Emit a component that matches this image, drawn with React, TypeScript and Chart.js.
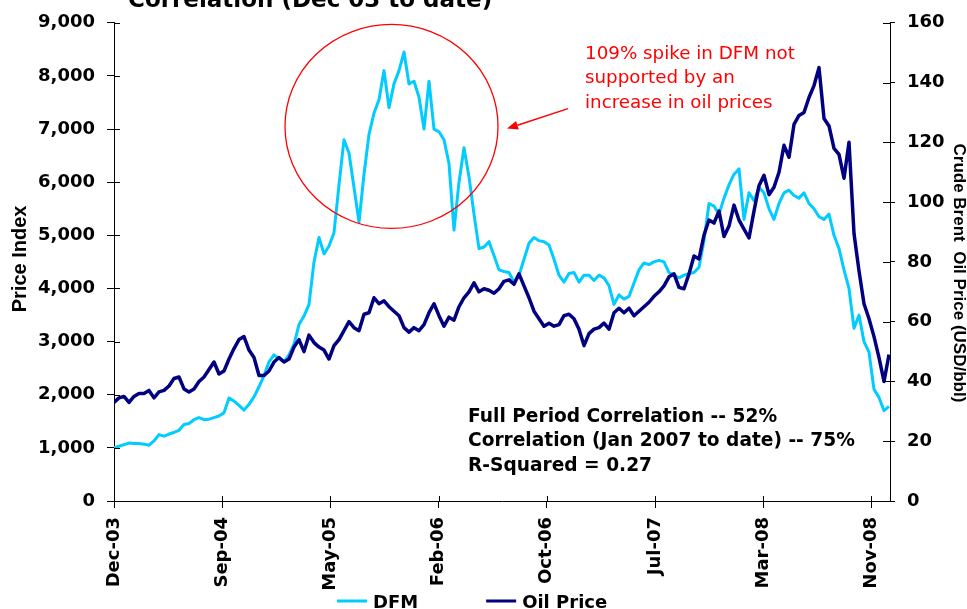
import React, { useEffect, useRef } from 'react';
import { Chart, registerables } from 'chart.js';

Chart.register(...registerables);

const chartTitle = 'Correlation (Dec 03 to date)';
const leftAxisTitle = 'Price Index';
const rightAxisTitle = 'Crude Brent  Oil Price (USD/bbl)';
const seriesNames = ['DFM', 'Oil Price'];
const seriesColors = ['#00CCFF', '#000080'];
const xTickLabels = ['Dec-03', 'Sep-04', 'May-05', 'Feb-06', 'Oct-06', 'Jul-07', 'Mar-08', 'Nov-08'];
const pointsPerTick = 21.64;

const dfmValues = [
  1000, 1030, 1060, 1090, 1080, 1080, 1070, 1050, 1130, 1250,
  1220, 1260, 1290, 1330, 1440, 1460, 1530, 1570, 1530, 1540,
  1570, 1600, 1660, 1940, 1880, 1800, 1710, 1820, 1960, 2150,
  2360, 2620, 2750, 2680, 2620, 2750, 2950, 3320, 3480, 3700,
  4500, 4960, 4650, 4800, 5050, 5950, 6800, 6550, 5900, 5250,
  6150, 6900, 7300, 7550, 8100, 7400, 7850, 8100, 8450, 7850,
  7900, 7600, 7000, 7900, 7000, 6950, 6800, 6350, 5100, 6000,
  6650, 6100, 5400, 4750, 4780, 4880, 4620, 4350, 4320, 4300,
  4120, 4250, 4550, 4850, 4960, 4900, 4880, 4820, 4550, 4250,
  4120, 4280, 4300, 4120, 4250, 4250, 4150, 4250, 4200, 4050,
  3700, 3880, 3800, 3850, 4100, 4350, 4480, 4450, 4500, 4530,
  4500, 4300, 4250, 4200, 4250, 4280, 4300, 4400, 4900, 5600,
  5550, 5400, 5700, 5950, 6150, 6250, 5300, 5800, 5650, 5900,
  5800, 5500, 5300, 5600, 5800, 5850, 5750, 5700, 5800, 5600,
  5500, 5350, 5300, 5400, 5000, 4750, 4350, 4000, 3250, 3500,
  3000, 2800, 2100, 1950, 1700, 1780,
];

const oilValues = [
  33, 34.5, 35, 33, 35, 36, 36, 37, 34.5, 36.5,
  37, 38.5, 41, 41.5, 37.5, 36.5, 37.5, 40, 41.5, 44,
  46.5, 42.5, 43.5, 47.5, 51, 54, 55, 50.5, 48, 42,
  42, 43.5, 46.5, 48, 46.5, 47.5, 51.5, 54, 50, 55.5,
  53, 51.5, 50.5, 47.5, 52, 54, 57, 60, 58, 57,
  62.5, 63, 68, 66, 67, 65, 63.5, 62, 58, 56.5,
  58, 57, 59, 63, 66, 62, 58.5, 61.5, 60.5, 65,
  68, 70, 73, 70, 71, 70.5, 69.5, 71, 73.5, 74,
  72.5, 76, 72, 68, 63.5, 61, 58.5, 59.5, 58.5, 59,
  62, 62.5, 61, 57.5, 52, 56, 57.5, 58, 59.5, 57.5,
  63, 64.5, 63, 64.5, 62, 63.5, 65, 66.5, 68.5, 70,
  72, 75, 76, 71.5, 71, 76, 82, 81, 89, 94,
  93, 97, 88.5, 92, 99, 94, 91, 88, 97, 105.5,
  109, 102.5, 105, 110, 119, 115, 126, 129, 130, 135,
  139, 145, 128, 125.5, 118, 116, 108, 120, 89.5, 77,
  66, 61, 55, 48, 40, 49,
];

const calloutLines = ['109% spike in DFM not', 'supported by an', 'increase in oil prices'];
const statsLines = ['Full Period Correlation -- 52%', 'Correlation (Jan 2007 to date) -- 75%', 'R-Squared = 0.27'];

// annotation anchors in data units (x = point index, y = DFM index)
const circleAnchor = { cx: 55.5, cy: 7050, rx: 21.3, ry: 1920 };
const arrowAnchor = { x0: 90.8, y0: 7385, x1: 78.6, y1: 7009 };
const calloutAnchor = { x: 94.2, y: 8324 };
const statsAnchor = { x: 70.8, y: 1490 };

const SANS = '"DejaVu Sans", Verdana, sans-serif';
const ARIAL = '"Liberation Sans", Arial, sans-serif';

const decorPlugin = {
  id: 'decor',
  afterDraw(chart: any) {
    const { ctx, chartArea: ca } = chart;
    const xs = chart.scales.x;
    const ys = chart.scales.y;
    const y1 = chart.scales.y1;
    ctx.save();

    // inner tick marks
    ctx.strokeStyle = '#000';
    ctx.lineWidth = 1;
    ctx.beginPath();
    ys.ticks.forEach((t: any) => {
      const py = Math.round(ys.getPixelForValue(t.value)) + 0.5;
      ctx.moveTo(ca.left, py);
      ctx.lineTo(ca.left + 6, py);
    });
    y1.ticks.forEach((t: any) => {
      const py = Math.round(y1.getPixelForValue(t.value)) + 0.5;
      ctx.moveTo(ca.right - 7, py);
      ctx.lineTo(ca.right, py);
    });
    xs.ticks.forEach((t: any) => {
      const px = Math.round(xs.getPixelForValue(t.value)) + 0.5;
      ctx.moveTo(px, ca.bottom - 5);
      ctx.lineTo(px, ca.bottom);
    });
    ctx.stroke();

    // chart title (cut off at top)
    ctx.fillStyle = '#000';
    ctx.font = `bold 23px ${SANS}`;
    ctx.textAlign = 'left';
    ctx.textBaseline = 'alphabetic';
    ctx.fillText(chartTitle, 128, 7);

    // axis titles
    ctx.save();
    ctx.translate(20.5, (ca.top + ca.bottom) / 2 - 3);
    ctx.rotate(-Math.PI / 2);
    ctx.font = `bold 20px ${ARIAL}`;
    ctx.textAlign = 'center';
    ctx.textBaseline = 'middle';
    ctx.fillText(leftAxisTitle, 0, 0);
    ctx.restore();

    ctx.save();
    ctx.translate(959, (ca.top + ca.bottom) / 2 + 11);
    ctx.rotate(Math.PI / 2);
    ctx.font = `bold 17px ${ARIAL}`;
    ctx.textAlign = 'center';
    ctx.textBaseline = 'middle';
    ctx.fillText(rightAxisTitle, 0, 0);
    ctx.restore();

    // red circle
    const cx = xs.getPixelForValue(circleAnchor.cx);
    const cy = ys.getPixelForValue(circleAnchor.cy);
    const rx = xs.getPixelForValue(circleAnchor.cx + circleAnchor.rx) - cx;
    const ry = cy - ys.getPixelForValue(circleAnchor.cy + circleAnchor.ry);
    ctx.strokeStyle = '#FF0000';
    ctx.lineWidth = 1.3;
    ctx.beginPath();
    ctx.ellipse(cx, cy, rx, ry, 0, 0, Math.PI * 2);
    ctx.stroke();

    // arrow
    const ax0 = xs.getPixelForValue(arrowAnchor.x0);
    const ay0 = ys.getPixelForValue(arrowAnchor.y0);
    const ax1 = xs.getPixelForValue(arrowAnchor.x1);
    const ay1 = ys.getPixelForValue(arrowAnchor.y1);
    const ang = Math.atan2(ay1 - ay0, ax1 - ax0);
    const headLen = 11;
    const headW = 4.5;
    const bx = ax1 - headLen * Math.cos(ang);
    const by = ay1 - headLen * Math.sin(ang);
    ctx.lineWidth = 1.5;
    ctx.beginPath();
    ctx.moveTo(ax0, ay0);
    ctx.lineTo(bx, by);
    ctx.stroke();
    ctx.fillStyle = '#FF0000';
    ctx.beginPath();
    ctx.moveTo(ax1, ay1);
    ctx.lineTo(bx + headW * Math.sin(ang), by - headW * Math.cos(ang));
    ctx.lineTo(bx - headW * Math.sin(ang), by + headW * Math.cos(ang));
    ctx.closePath();
    ctx.fill();

    // callout text
    ctx.font = `18.3px ${SANS}`;
    ctx.textAlign = 'left';
    ctx.textBaseline = 'alphabetic';
    const tx = xs.getPixelForValue(calloutAnchor.x);
    const ty = ys.getPixelForValue(calloutAnchor.y);
    calloutLines.forEach((l, i) => ctx.fillText(l, tx, ty + i * 24.5));

    // stats text
    ctx.fillStyle = '#000';
    ctx.font = `bold 18.6px ${SANS}`;
    const sx = xs.getPixelForValue(statsAnchor.x);
    const sy = ys.getPixelForValue(statsAnchor.y);
    statsLines.forEach((l, i) => ctx.fillText(l, sx, sy + i * 24.5));

    // legend
    ctx.font = `bold 18px ${SANS}`;
    let lx = 337;
    const ly = 601;
    chart.data.datasets.forEach((ds: any) => {
      ctx.strokeStyle = ds.borderColor;
      ctx.lineWidth = 3;
      ctx.beginPath();
      ctx.moveTo(lx, ly);
      ctx.lineTo(lx + 30, ly);
      ctx.stroke();
      ctx.fillStyle = '#000';
      ctx.fillText(ds.label, lx + 36, 608);
      lx += 36 + ctx.measureText(ds.label).width + 68;
    });

    ctx.restore();
  },
};

export default function App() {
  const canvasRef = useRef<HTMLCanvasElement | null>(null);

  useEffect(() => {
    if (!canvasRef.current) return;
    const idx = dfmValues.map((_, i) => i);
    const tickFont = { family: SANS, size: 18, weight: 'bold' as const };
    const chart = new Chart(canvasRef.current, {
      type: 'line',
      data: {
        datasets: [
          {
            label: seriesNames[0],
            data: idx.map((i) => ({ x: i, y: dfmValues[i] })),
            borderColor: seriesColors[0],
            backgroundColor: seriesColors[0],
            borderWidth: 3,
            yAxisID: 'y',
            order: 1,
          },
          {
            label: seriesNames[1],
            data: idx.map((i) => ({ x: i, y: oilValues[i] })),
            borderColor: seriesColors[1],
            backgroundColor: seriesColors[1],
            borderWidth: 3.5,
            yAxisID: 'y1',
            order: 0,
          },
        ],
      },
      options: {
        animation: false,
        responsive: true,
        maintainAspectRatio: false,
        devicePixelRatio: 1,
        layout: { padding: { top: 22, left: 0, right: 0, bottom: 0 } },
        elements: { point: { radius: 0 }, line: { tension: 0, borderJoinStyle: 'round' } },
        plugins: {
          legend: { display: false },
          title: { display: false },
          tooltip: { enabled: false },
        },
        scales: {
          x: {
            type: 'linear',
            min: 0,
            max: 155.2,
            afterBuildTicks: (s: any) => {
              s.ticks = xTickLabels.map((_, k) => ({ value: k * pointsPerTick }));
            },
            afterFit: (s: any) => {
              s.height = 108;
            },
            ticks: {
              autoSkip: false,
              minRotation: 90,
              maxRotation: 90,
              padding: 9,
              color: '#000',
              font: tickFont,
              callback: (_v: any, i: number) => xTickLabels[i],
            },
            grid: { drawOnChartArea: false, drawTicks: true, tickLength: 7, color: '#000', lineWidth: 1 },
            border: { display: true, color: '#000', width: 1 },
          },
          y: {
            type: 'linear',
            position: 'left',
            min: 0,
            max: 9000,
            afterFit: (s: any) => {
              s.width = 114;
            },
            ticks: {
              stepSize: 1000,
              padding: 12,
              color: '#000',
              font: tickFont,
              callback: (v: any) => Number(v).toLocaleString('en-US'),
            },
            grid: { drawOnChartArea: false, drawTicks: true, tickLength: 7, color: '#000', lineWidth: 1 },
            border: { display: true, color: '#000', width: 1 },
          },
          y1: {
            type: 'linear',
            position: 'right',
            min: 0,
            max: 160,
            afterFit: (s: any) => {
              s.width = 77;
            },
            ticks: {
              stepSize: 20,
              padding: 12,
              color: '#000',
              font: tickFont,
            },
            grid: { drawOnChartArea: false, drawTicks: true, tickLength: 5, color: '#000', lineWidth: 1 },
            border: { display: true, color: '#000', width: 1 },
          },
        },
      },
      plugins: [decorPlugin],
    } as any);
    return () => chart.destroy();
  }, []);

  return (
    <div style={{ position: 'fixed', left: 0, top: 0, width: 967, height: 609, background: '#fff' }}>
      <canvas ref={canvasRef} />
    </div>
  );
}
